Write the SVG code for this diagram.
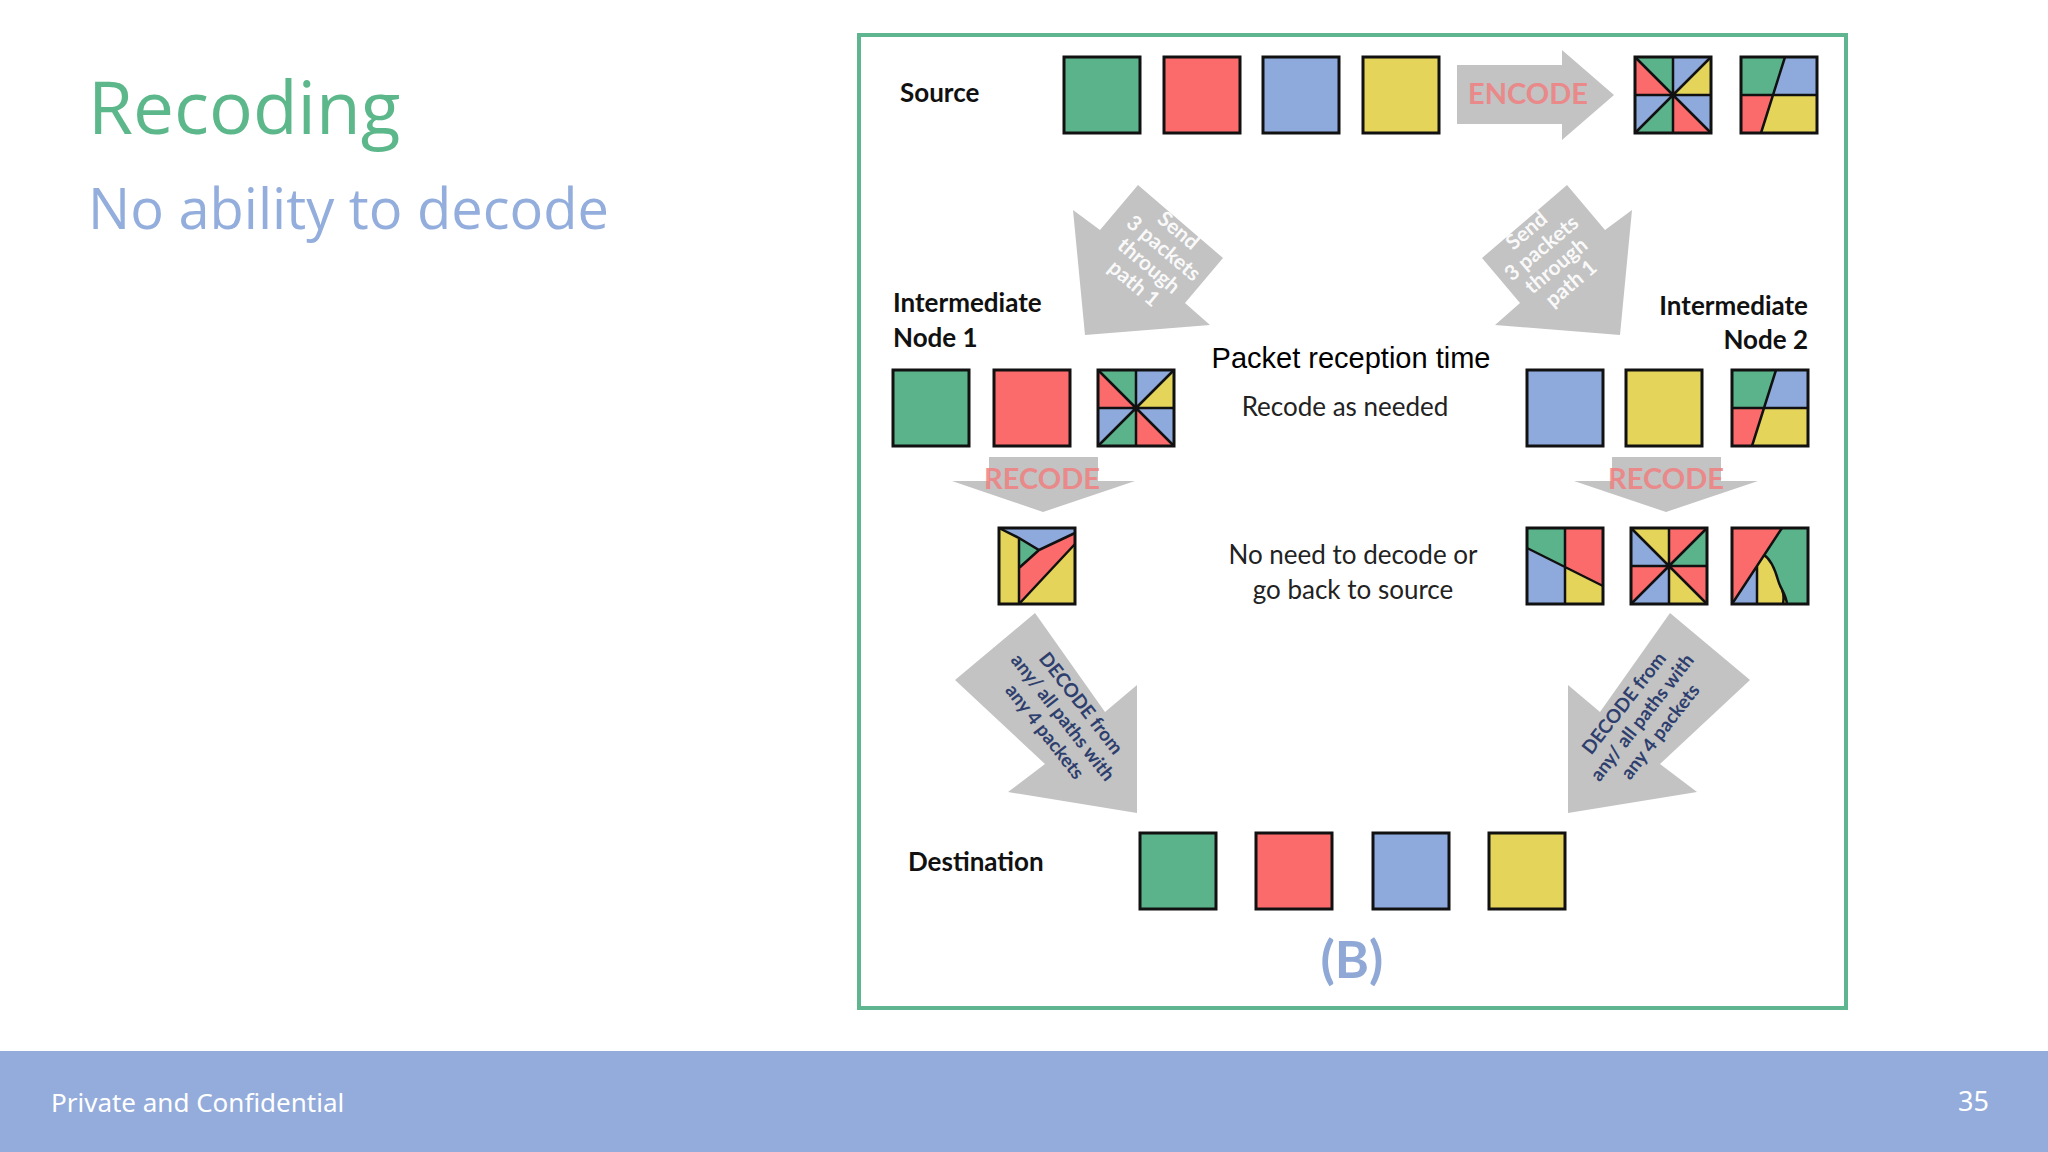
<svg xmlns="http://www.w3.org/2000/svg" width="2048" height="1152" viewBox="0 0 2048 1152">
<style>
.g{fill:#5ab38a}.r{fill:#fb6b6b}.b{fill:#8eaadc}.y{fill:#e4d45a}
.sq{stroke:#111;stroke-width:3}
.ln{stroke:#111;stroke-width:2.5;fill:none}
.lbl{font-family:Lato,"Liberation Sans",sans-serif;font-weight:bold;font-size:26px;fill:#111}
.arr{fill:#c3c3c3}
.code{font-family:Lato,"Liberation Sans",sans-serif;font-weight:bold;font-size:29px;fill:#f07f80;text-anchor:middle;opacity:.85}
.snd{font-family:Lato,"Liberation Sans",sans-serif;font-weight:bold;font-size:21px;fill:#fff;text-anchor:middle;opacity:.9}
.dec{font-family:Lato,"Liberation Sans",sans-serif;font-weight:bold;font-size:19px;fill:#2e3f6e;text-anchor:middle}
.mid{font-family:Lato,"Liberation Sans",sans-serif;font-size:26px;fill:#222;text-anchor:middle}
</style>
<defs>
<g id="pA">
<polygon class="g" points="38,38 0,0 38,0"/><polygon class="b" points="38,38 38,0 76,0"/>
<polygon class="y" points="38,38 76,0 76,38"/><polygon class="b" points="38,38 76,38 76,76"/>
<polygon class="r" points="38,38 76,76 38,76"/><polygon class="g" points="38,38 38,76 0,76"/>
<polygon class="b" points="38,38 0,76 0,38"/><polygon class="r" points="38,38 0,38 0,0"/>
<path class="ln" d="M38 0V76M0 38H76M0 0L76 76M76 0L0 76"/>
<rect class="sq" width="76" height="76" fill="none"/>
</g>
<g id="pE">
<polygon class="y" points="38,38 0,0 38,0"/><polygon class="r" points="38,38 38,0 76,0"/>
<polygon class="g" points="38,38 76,0 76,38"/><polygon class="r" points="38,38 76,38 76,76"/>
<polygon class="y" points="38,38 76,76 38,76"/><polygon class="b" points="38,38 38,76 0,76"/>
<polygon class="r" points="38,38 0,76 0,38"/><polygon class="b" points="38,38 0,38 0,0"/>
<path class="ln" d="M38 0V76M0 38H76M0 0L76 76M76 0L0 76"/>
<rect class="sq" width="76" height="76" fill="none"/>
</g>
<g id="pB">
<polygon class="g" points="0,0 44,0 32,38 0,38"/><polygon class="b" points="44,0 76,0 76,38 32,38"/>
<polygon class="r" points="0,38 32,38 20,76 0,76"/><polygon class="y" points="32,38 76,38 76,76 20,76"/>
<path class="ln" d="M0 38H76M44 0L20 76"/>
<rect class="sq" width="76" height="76" fill="none"/>
</g>
<g id="pC">
<polygon class="y" points="0,0 20,10 20,76 0,76"/>
<polygon class="b" points="0,0 76,0 76,5 40,22 20,10"/>
<polygon class="g" points="20,10 40,22 20,40"/>
<polygon class="r" points="20,40 40,22 76,5 76,16 20,76"/>
<polygon class="y" points="20,76 76,16 76,76"/>
<path class="ln" d="M0 0L20 10V76M20 10L40 22L76 5M40 22L20 40M76 16L20 76"/>
<rect class="sq" width="76" height="76" fill="none"/>
</g>
<g id="pD">
<polygon class="g" points="0,0 38,0 38,39 0,20"/><polygon class="r" points="38,0 76,0 76,58 38,39"/>
<polygon class="b" points="0,20 38,39 38,76 0,76"/><polygon class="y" points="38,39 76,58 76,76 38,76"/>
<path class="ln" d="M38 0V76M0 20L76 58"/>
<rect class="sq" width="76" height="76" fill="none"/>
</g>
<g id="pF">
<polygon class="r" points="0,0 50,0 0,76"/>
<polygon class="b" points="0,76 25,38 25,76"/>
<path class="y" d="M25 38L32 27C40 32 44 45 46 52C48 60 54 66 55 76H25Z"/>
<path class="g" d="M50 0H76V76H55C54 66 48 60 46 52C44 45 40 32 32 27Z"/>
<path class="ln" d="M0 76L50 0M25 38V76M32 27C40 32 44 45 46 52C48 60 54 66 55 76M50 62C52 66 52 70 51 76"/>
<rect class="sq" width="76" height="76" fill="none"/>
</g>
</defs>

<rect width="2048" height="1152" fill="#fff"/>
<g id="title">
<text x="88" y="134" font-family="'Open Sans','Noto Sans',sans-serif" font-size="73" fill="#5cb88a">Recoding</text>
<text x="88" y="229" font-family="'Open Sans','Noto Sans',sans-serif" font-size="56" fill="#93aedc">No ability to decode</text>
</g>
<g id="footer">
<rect x="0" y="1051" width="2048" height="101" fill="#94acdb"/>
<text x="51" y="1112" font-family="'Noto Sans','Liberation Sans',sans-serif" font-size="26" fill="#fff">Private and Confidential</text>
<text x="1989" y="1111" font-family="'Noto Sans','Liberation Sans',sans-serif" font-size="27" fill="#fff" text-anchor="end">35</text>
</g>
<rect x="859" y="35" width="987" height="973" fill="none" stroke="#5fb58f" stroke-width="4"/>

<g id="connectors">
<g id="encode-arrow">
<polygon class="arr" points="1457,65 1562,65 1562,50 1614,95 1562,140 1562,124 1457,124"/>
<text class="code" x="1528" y="104">ENCODE</text>
</g>
<g id="recode1">
<polygon class="arr" points="989,457 1098,457 1098,481 1135,481 1043,512 952,481 989,481"/>
<text class="code" x="1042" y="489">RECODE</text>
</g>
<g id="recode2">
<polygon class="arr" points="1612,457 1721,457 1721,481 1758,481 1666,512 1574,481 1612,481"/>
<text class="code" x="1666" y="489">RECODE</text>
</g>
<g id="send1">
<polygon class="arr" points="1138,185 1223,258 1185,303 1210,325 1085,335 1073,210 1100,230"/>
<text class="snd" transform="translate(1152,262) rotate(40)"><tspan x="0" y="-34">Send</tspan><tspan x="0" y="-11">3 packets</tspan><tspan x="0" y="12">through</tspan><tspan x="0" y="35">path 1</tspan></text>
</g>
<g id="send2">
<polygon class="arr" points="1567,185 1482,258 1520,303 1495,325 1620,335 1632,210 1605,230"/>
<text class="snd" transform="translate(1553,262) rotate(-40)"><tspan x="0" y="-34">Send</tspan><tspan x="0" y="-11">3 packets</tspan><tspan x="0" y="12">through</tspan><tspan x="0" y="35">path 1</tspan></text>
</g>
<g id="decode1">
<polygon class="arr" points="1035,613 955,680 1045,764 1008,792 1137,813 1137,685 1105,712"/>
<text class="dec" transform="translate(1057,722) rotate(52)"><tspan x="0" y="-24">DECODE from</tspan><tspan x="0" y="-1">any/ all paths with</tspan><tspan x="0" y="22">any 4 packets</tspan></text>
</g>
<g id="decode2">
<polygon class="arr" points="1670,613 1750,680 1660,764 1697,792 1568,813 1568,685 1600,712"/>
<text class="dec" transform="translate(1648,722) rotate(-52)"><tspan x="0" y="-24">DECODE from</tspan><tspan x="0" y="-1">any/ all paths with</tspan><tspan x="0" y="22">any 4 packets</tspan></text>
</g>
</g>

<g id="source">
<text class="lbl" x="900" y="102">Source</text>
<rect class="sq g" x="1064" y="57" width="76" height="76"/>
<rect class="sq r" x="1164" y="57" width="76" height="76"/>
<rect class="sq b" x="1263" y="57" width="76" height="76"/>
<rect class="sq y" x="1363" y="57" width="76" height="76"/>
<use href="#pA" x="1635" y="57"/>
<use href="#pB" x="1741" y="57"/>
</g>
<g id="node1">
<text class="lbl" x="893" y="312">Intermediate</text>
<text class="lbl" x="893" y="347">Node 1</text>
<rect class="sq g" x="893" y="370" width="76" height="76"/>
<rect class="sq r" x="994" y="370" width="76" height="76"/>
<use href="#pA" x="1098" y="370"/>
<use href="#pC" x="999" y="528"/>
</g>
<g id="node2">
<text class="lbl" x="1808" y="315" text-anchor="end">Intermediate</text>
<text class="lbl" x="1808" y="349" text-anchor="end">Node 2</text>
<rect class="sq b" x="1527" y="370" width="76" height="76"/>
<rect class="sq y" x="1626" y="370" width="76" height="76"/>
<use href="#pB" x="1732" y="370"/>
<use href="#pD" x="1527" y="528"/>
<use href="#pE" x="1631" y="528"/>
<use href="#pF" x="1732" y="528"/>
</g>
<g id="center-text">
<text x="1351" y="368" font-family="'Liberation Sans',Arial,sans-serif" font-size="29" fill="#000" text-anchor="middle">Packet reception time</text>
<text class="mid" x="1345" y="416">Recode as needed</text>
<text class="mid" x="1353" y="564">No need to decode or</text>
<text class="mid" x="1353" y="599">go back to source</text>
</g>
<g id="destination">
<text class="lbl" x="908" y="871">Destination</text>
<rect class="sq g" x="1140" y="833" width="76" height="76"/>
<rect class="sq r" x="1256" y="833" width="76" height="76"/>
<rect class="sq b" x="1373" y="833" width="76" height="76"/>
<rect class="sq y" x="1489" y="833" width="76" height="76"/>
</g>
<text x="1352" y="978" font-family="Lato,'Liberation Sans',sans-serif" font-weight="bold" font-size="52" fill="#8fa8d6" text-anchor="middle">(B)</text>
</svg>
